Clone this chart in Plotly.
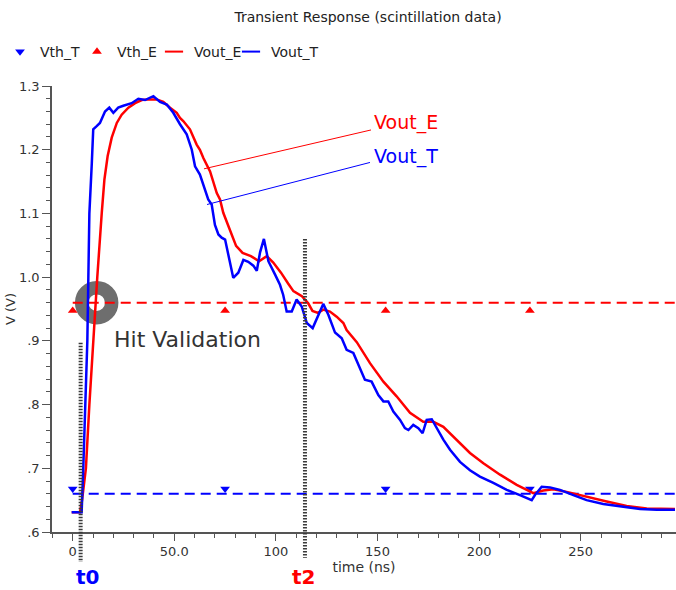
import plotly.graph_objects as go

# ---------------- data ----------------
vout_t_time = [
    -0.5, 4.4, 5.2, 6.1, 7.2, 7.7, 8.2, 9.4, 10.1, 11.8,
    13.4, 15.9, 18.0, 20.0, 22.4, 24.9, 29.0, 32.3, 35.6, 39.7,
    43.0, 46.3, 49.5, 52.8, 56.1, 58.6, 60.2, 62.6, 65.9, 66.7,
    68.4, 70.0, 71.7, 73.3, 75.0, 76.6, 79.0, 81.5, 84.0, 86.4,
    88.9, 90.6, 92.2, 94.1, 96.3, 99.6, 102.0, 103.6, 105.3, 107.8,
    110.2, 112.7, 115.2, 118.1, 120.9, 123.3, 125.8, 129.1, 132.4, 134.8,
    138.1, 141.4, 143.8, 147.1, 150.4, 152.9, 155.3, 157.8, 161.1, 163.5,
    165.2, 167.6, 170.1, 172.2, 174.2, 176.7, 179.1, 182.4, 185.7, 190.6,
    195.5, 200.4, 207.0, 213.6, 220.1, 225.9, 227.5, 230.8, 234.9, 239.8,
    246.4, 252.9, 261.1, 269.3, 279.2, 287.4, 296.4,
]
vout_t_volt = [
    0.631, 0.631, 0.700, 0.800, 0.900, 1.000, 1.100, 1.179, 1.232, 1.237,
    1.242, 1.260, 1.266, 1.258, 1.266, 1.269, 1.273, 1.280, 1.278, 1.284,
    1.275, 1.271, 1.258, 1.240, 1.224, 1.200, 1.174, 1.161, 1.130, 1.122,
    1.114, 1.082, 1.067, 1.062, 1.059, 1.033, 0.999, 1.007, 1.027, 1.024,
    1.018, 1.010, 1.039, 1.060, 1.025, 1.004, 0.988, 0.972, 0.946, 0.946,
    0.965, 0.954, 0.928, 0.920, 0.941, 0.958, 0.941, 0.913, 0.904, 0.886,
    0.881, 0.857, 0.839, 0.836, 0.815, 0.805, 0.805, 0.789, 0.776, 0.763,
    0.760, 0.768, 0.763, 0.755, 0.776, 0.777, 0.763, 0.745, 0.729, 0.710,
    0.697, 0.687, 0.677, 0.666, 0.658, 0.650, 0.658, 0.671, 0.670, 0.666,
    0.658, 0.650, 0.644, 0.640, 0.636, 0.635, 0.635,
]
vout_e_time = [
    -0.5, 3.6, 4.6, 6.5, 8.2, 10.1, 12.1, 14.3, 15.6, 17.2,
    19.2, 21.7, 24.1, 27.4, 30.7, 34.0, 37.2, 41.3, 44.6, 47.9,
    51.2, 52.8, 54.4, 57.7, 61.0, 62.6, 64.3, 67.6, 70.9, 72.5,
    74.1, 76.9, 80.4, 83.6, 87.7, 91.7, 95.5, 98.7, 102.5, 106.0,
    108.6, 112.8, 115.9, 118.0, 120.7, 123.3, 126.6, 129.9, 133.2, 134.8,
    139.8, 146.3, 152.9, 159.4, 166.0, 172.5, 177.5, 182.4, 189.0, 195.5,
    202.1, 210.3, 218.5, 226.7, 231.6, 236.5, 243.1, 252.9, 262.8, 272.6,
    282.5, 296.4,
]
vout_e_volt = [
    0.631, 0.631, 0.650, 0.700, 0.800, 0.900, 1.000, 1.101, 1.153, 1.190,
    1.219, 1.242, 1.255, 1.266, 1.273, 1.278, 1.279, 1.279, 1.275, 1.266,
    1.258, 1.250, 1.245, 1.232, 1.208, 1.200, 1.187, 1.166, 1.132, 1.122,
    1.101, 1.078, 1.049, 1.038, 1.033, 1.025, 1.033, 1.023, 1.007, 0.990,
    0.978, 0.970, 0.959, 0.947, 0.944, 0.949, 0.946, 0.938, 0.928, 0.917,
    0.898, 0.865, 0.836, 0.813, 0.787, 0.773, 0.773, 0.765, 0.745, 0.724,
    0.708, 0.690, 0.674, 0.661, 0.665, 0.667, 0.663, 0.655, 0.648, 0.641,
    0.637, 0.636,
]
vth_t_level = 0.66
vth_e_level = 0.96
vth_span = [0.0, 297.0]
vth_marker_time = [0.0, 75.0, 154.0, 225.0]

t0_time = 3.9
t2_time = 114.3

x_tick_vals = [0, 50, 100, 150, 200, 250]
x_tick_text = ["0", "50.0", "100", "150", "200", "250"]
y_tick_vals = [0.6, 0.7, 0.8, 0.9, 1.0, 1.1, 1.2, 1.3]
y_tick_text = [".6", ".7", ".8", ".9", "1.0", "1.1", "1.2", "1.3"]

# ---------------- layout constants ----------------
W, H = 676, 590
M_L, M_R, M_T, M_B = 52, 0, 86, 58
x_range = [-10.19, 296.9]
y_range = [0.6, 1.3]
plot_h = H - M_T - M_B
volt_per_px = (y_range[1] - y_range[0]) / plot_h

FONT = "DejaVu Sans"
RED = "#ff0000"
BLUE = "#0000ff"
AXIS = "#555555"

def vpaper(v):
    return (v - y_range[0]) / (y_range[1] - y_range[0])

fig = go.Figure()

# threshold dashed lines
fig.add_trace(go.Scatter(x=vth_span, y=[vth_e_level] * 2, mode="lines",
                         line=dict(color=RED, width=2, dash="10px,6px"),
                         showlegend=False, hoverinfo="skip"))
fig.add_trace(go.Scatter(x=vth_span, y=[vth_t_level] * 2, mode="lines",
                         line=dict(color=BLUE, width=2, dash="10px,6px"),
                         showlegend=False, hoverinfo="skip"))

# threshold markers (offset from line, like the waveform viewer)
fig.add_trace(go.Scatter(x=vth_marker_time,
                         y=[vth_t_level + 5 * volt_per_px] * len(vth_marker_time),
                         mode="markers", name="Vth_T", legendrank=1,
                         marker=dict(symbol="triangle-down", size=8.5, color=BLUE)))
fig.add_trace(go.Scatter(x=vth_marker_time,
                         y=[vth_e_level - 8 * volt_per_px] * len(vth_marker_time),
                         mode="markers", name="Vth_E", legendrank=2,
                         marker=dict(symbol="triangle-up", size=8.5, color=RED)))

# output waveforms
fig.add_trace(go.Scatter(x=vout_e_time, y=vout_e_volt, mode="lines", name="Vout_E",
                         showlegend=False, line=dict(color=RED, width=2.5)))
fig.add_trace(go.Scatter(x=vout_t_time, y=vout_t_volt, mode="lines", name="Vout_T",
                         showlegend=False, line=dict(color=BLUE, width=2.5)))

# short-line legend entries for the waveforms
fig.add_trace(go.Scatter(x=[None], y=[None], mode="markers", name="Vout_E", legendrank=3,
                         marker=dict(symbol="line-ew", size=13,
                                     line=dict(color=RED, width=2))))
fig.add_trace(go.Scatter(x=[None], y=[None], mode="markers", name="Vout_T", legendrank=4,
                         legendwidth=60,
                         marker=dict(symbol="line-ew", size=13,
                                     line=dict(color=BLUE, width=2))))

shapes = [
    # hit validation ring
    dict(type="circle", xref="x", yref="y", xsizemode="pixel", ysizemode="pixel",
         xanchor=11.8, yanchor=0.96, x0=-15, x1=15, y0=-15, y1=15,
         line=dict(color="#6e6e6e", width=13.5), layer="below"),
    # pointer lines for labels
    dict(type="line", xref="x", yref="y", x0=64.6, y0=1.170, x1=146.8, y1=1.231,
         line=dict(color=RED, width=1)),
    dict(type="line", xref="x", yref="y", x0=66.1, y0=1.114, x1=146.3, y1=1.180,
         line=dict(color=BLUE, width=1)),
    # t0 / t2 dotted markers
    dict(type="line", xref="x", yref="paper", x0=t0_time, x1=t0_time,
         y0=vpaper(0.897), y1=-0.0673,
         line=dict(color="#3a3a3a", width=4, dash="1.5px,1.5px")),
    dict(type="line", xref="x", yref="paper", x0=t2_time, x1=t2_time,
         y0=vpaper(1.06), y1=-0.058,
         line=dict(color="#3a3a3a", width=4, dash="1.5px,1.5px")),
]

annotations = [
    dict(text="Vout_E", x=147.1, y=1.2422, xref="x", yref="y", xanchor="left",
         yanchor="middle", showarrow=False, font=dict(family=FONT, size=19, color=RED)),
    dict(text="Vout_T", x=147.1, y=1.1897, xref="x", yref="y", xanchor="left",
         yanchor="middle", showarrow=False, font=dict(family=FONT, size=19, color=BLUE)),
    dict(text="Hit Validation", x=19.2, y=0.9028, xref="x", yref="y", xanchor="left",
         yanchor="middle", showarrow=False, font=dict(family=FONT, size=22, color="#333333")),
    dict(text="<b>t0</b>", x=7.5, y=-0.100, xref="x", yref="paper", xanchor="center",
         yanchor="middle", showarrow=False, font=dict(family=FONT, size=20, color=BLUE)),
    dict(text="<b>t2</b>", x=113.5, y=-0.102, xref="x", yref="paper", xanchor="center",
         yanchor="middle", showarrow=False, font=dict(family=FONT, size=20, color=RED)),
]

fig.update_layout(
    width=W, height=H,
    margin=dict(l=M_L, r=M_R, t=M_T, b=M_B, pad=0, autoexpand=False),
    paper_bgcolor="white", plot_bgcolor="white",
    font=dict(family=FONT, size=14, color="#333333"),
    title=dict(text="Transient Response (scintillation data)", x=368 / W, xref="container",
               xanchor="center", y=1 - 17 / H, yref="container", yanchor="middle",
               font=dict(family=FONT, size=14, color="#222222")),
    legend=dict(orientation="h", xref="container", yref="container",
                x=-4 / W, xanchor="left", y=1 - 52 / H, yanchor="middle",
                font=dict(family=FONT, size=14, color="#222222"), itemwidth=30,
                entrywidth=32, bgcolor="rgba(0,0,0,0)", traceorder="normal"),
    shapes=shapes, annotations=annotations,
    xaxis=dict(range=x_range, tickmode="array", tickvals=x_tick_vals, ticktext=x_tick_text,
               automargin=False,
               ticks="outside", ticklen=7, tickwidth=1.2, tickcolor=AXIS,
               showline=True, linecolor=AXIS, linewidth=1.5, showgrid=False, zeroline=False,
               tickfont=dict(family=FONT, size=13, color="#333333"),
               minor=dict(dtick=10, tick0=0, ticks="outside", ticklen=4, tickcolor=AXIS,
                          tickwidth=1.2, showgrid=False),
               title=dict(text="time (ns)", standoff=3,
                          font=dict(family=FONT, size=14, color="#333333"))),
    yaxis=dict(range=y_range, tickmode="array", tickvals=y_tick_vals, ticktext=y_tick_text,
               automargin=False,
               ticks="outside", ticklen=8, tickwidth=1.2, tickcolor=AXIS,
               showline=True, linecolor=AXIS, linewidth=1.5, showgrid=False, zeroline=False,
               tickfont=dict(family=FONT, size=13, color="#333333"),
               minor=dict(dtick=0.02, tick0=0.6, ticks="outside", ticklen=4, tickcolor=AXIS,
                          tickwidth=1.2, showgrid=False),
               title=dict(text="V (V)", standoff=0,
                          font=dict(family=FONT, size=13, color="#333333"))),
)

fig.write_html("out.html", config={"displayModeBar": False},
               post_script="document.body.style.margin='0';document.body.style.overflow='hidden';")
